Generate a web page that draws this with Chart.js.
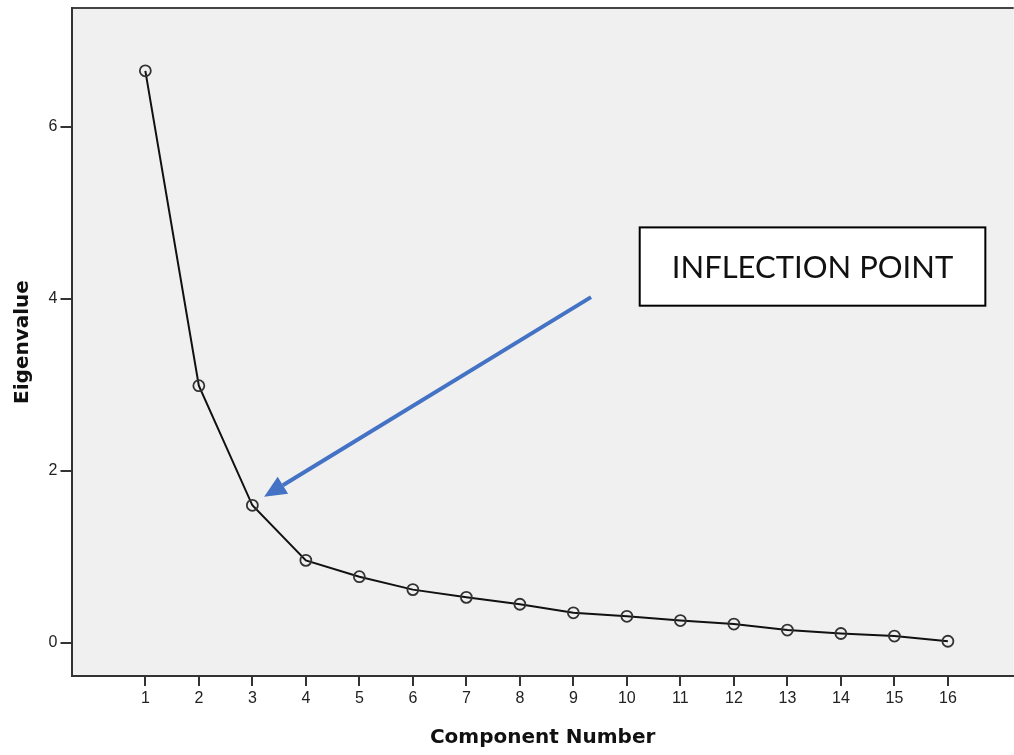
<!DOCTYPE html>
<html>
<head>
<meta charset="utf-8">
<script src="https://cdn.jsdelivr.net/npm/chart.js@4.4.1/dist/chart.umd.min.js"></script>
<style>
  html, body { margin: 0; padding: 0; background: #fff; overflow: hidden; }
  #wrap { width: 1021px; height: 755px; }
</style>
</head>
<body>
<div id="wrap"><canvas id="screeChart"></canvas></div>
<script>
// scree plot data
const components = [1, 2, 3, 4, 5, 6, 7, 8, 9, 10, 11, 12, 13, 14, 15, 16];
const eigenvalues = [6.65, 2.99, 1.60, 0.96, 0.77, 0.62, 0.53, 0.45, 0.35, 0.31, 0.26, 0.22, 0.15, 0.11, 0.08, 0.02];
const yTicks = [0, 2, 4, 6];
const xTicks = components;

// annotation (data units)
const noteText = 'INFLECTION POINT';
const noteBox = { x1: 10.24, x2: 16.70, y1: 4.83, y2: 3.92 };
const arrow = { fromX: 9.33, fromY: 4.02, toX: 3.22, toY: 1.70 };

// background + top border + annotation
const screeDecor = {
    id: 'screeDecor',
    beforeDraw(chart) {
        const { ctx, chartArea: a } = chart;
        ctx.save();
        ctx.fillStyle = '#f0f0f0';
        ctx.fillRect(a.left, a.top, a.right - a.left, a.bottom - a.top);
        ctx.strokeStyle = '#444';
        ctx.lineWidth = 2;
        ctx.beginPath();
        ctx.moveTo(a.left, a.top);
        ctx.lineTo(a.right, a.top);
        ctx.stroke();
        ctx.restore();
    },
    afterDraw(chart) {
        const { ctx, scales: { x, y } } = chart;
        ctx.save();
        // box
        const bx = x.getPixelForValue(noteBox.x1), bx2 = x.getPixelForValue(noteBox.x2);
        const by = y.getPixelForValue(noteBox.y1), by2 = y.getPixelForValue(noteBox.y2);
        ctx.fillStyle = '#fff';
        ctx.fillRect(bx, by, bx2 - bx, by2 - by);
        ctx.strokeStyle = '#000';
        ctx.lineWidth = 2;
        ctx.strokeRect(bx, by, bx2 - bx, by2 - by);
        ctx.fillStyle = '#111';
        ctx.font = '31px Lato, "Open Sans", sans-serif';
        ctx.textAlign = 'center';
        ctx.textBaseline = 'middle';
        ctx.fillText(noteText, (bx + bx2) / 2, (by + by2) / 2 + 1);

        // arrow
        const fx = x.getPixelForValue(arrow.fromX), fy = y.getPixelForValue(arrow.fromY);
        const tx = x.getPixelForValue(arrow.toX), ty = y.getPixelForValue(arrow.toY);
        const ang = Math.atan2(ty - fy, tx - fx);
        const headLen = 22, headW = 10;
        const baseX = tx - headLen * Math.cos(ang), baseY = ty - headLen * Math.sin(ang);
        ctx.strokeStyle = '#4472c4';
        ctx.fillStyle = '#4472c4';
        ctx.lineWidth = 4;
        ctx.beginPath();
        ctx.moveTo(fx, fy);
        ctx.lineTo(baseX, baseY);
        ctx.stroke();
        ctx.beginPath();
        ctx.moveTo(tx, ty);
        ctx.lineTo(baseX + headW * Math.sin(ang), baseY - headW * Math.cos(ang));
        ctx.lineTo(baseX - headW * Math.sin(ang), baseY + headW * Math.cos(ang));
        ctx.closePath();
        ctx.fill();
        ctx.restore();
    }
};

const ctx = document.getElementById('screeChart').getContext('2d');
const screeChart = new Chart(ctx, {
    type: 'line',
    data: {
        datasets: [{
            label: 'Eigenvalue',
            data: components.map((c, i) => ({ x: c, y: eigenvalues[i] })),
            borderColor: '#111',
            borderWidth: 2,
            pointRadius: 5.5,
            pointBorderWidth: 1.8,
            pointBorderColor: '#333',
            pointBackgroundColor: 'rgba(0,0,0,0)',
            tension: 0
        }]
    },
    options: {
        responsive: true,
        maintainAspectRatio: false,
        animation: false,
        layout: { padding: { top: 8, right: 0, left: 0, bottom: 0 } },
        plugins: {
            legend: { display: false },
            tooltip: { enabled: false }
        },
        scales: {
            x: {
                type: 'linear',
                min: -0.38,
                max: 17.23,
                afterBuildTicks: s => { s.ticks = xTicks.map(v => ({ value: v })); },
                afterFit: s => { s.height = 79; s.paddingLeft = 0; s.paddingRight = 0; },
                grid: { drawOnChartArea: false, drawTicks: true, tickLength: 10, color: '#333', lineWidth: 2 },
                border: { display: true, color: '#333', width: 2 },
                ticks: { color: '#222', font: { family: 'Liberation Sans, Arial', size: 16 }, padding: 3, maxRotation: 0, autoSkip: false },
                title: { display: true, text: 'Component Number', color: '#111',
                    font: { family: 'DejaVu Sans', size: 20, weight: 'bold' }, padding: { top: 0, bottom: 5 } }
            },
            y: {
                min: -0.384,
                max: 7.38,
                afterBuildTicks: s => { s.ticks = yTicks.map(v => ({ value: v })); },
                afterFit: s => { s.width = 71.5; s.paddingTop = 0; s.paddingBottom = 0; },
                grid: { drawOnChartArea: false, drawTicks: true, tickLength: 11, color: '#333', lineWidth: 2 },
                border: { display: true, color: '#333', width: 2 },
                ticks: { color: '#222', font: { family: 'Liberation Sans, Arial', size: 16 }, padding: 3 },
                title: { display: true, text: 'Eigenvalue', color: '#111',
                    font: { family: 'DejaVu Sans', size: 20, weight: 'bold' }, padding: { top: 11, bottom: 0 } }
            }
        }
    },
    plugins: [screeDecor]
});
</script>
</body>
</html>
